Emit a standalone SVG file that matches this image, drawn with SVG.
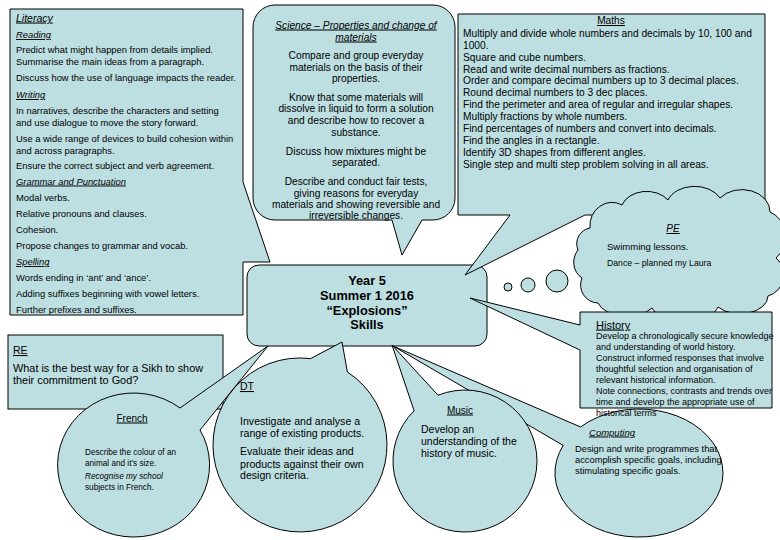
<svg xmlns="http://www.w3.org/2000/svg" width="780" height="540" viewBox="0 0 780 540">
<style>
.sh{fill:#bddfe2;stroke:#000;stroke-width:1;stroke-linejoin:miter}
text{font-family:"Liberation Sans",Arial,sans-serif;fill:#000}
.u{text-decoration:underline}
.i{font-style:italic}
.lit{font-size:9.4px}
.sci{font-size:10.2px;text-anchor:middle}
.mat{font-size:10.2px}
.his{font-size:9px}
.c{text-anchor:middle}
</style>
<rect width="780" height="540" fill="#fff"/>

<g id="central">
<rect class="sh" x="247" y="265" width="240" height="81" rx="12"/>
<text x="367" y="284.5" font-size="12.8" font-weight="bold" class="c">Year 5</text>
<text x="367" y="299.5" font-size="12.8" font-weight="bold" class="c">Summer 1 2016</text>
<text x="367" y="314.5" font-size="12.8" font-weight="bold" class="c">“Explosions”</text>
<text x="367" y="328.5" font-size="12.8" font-weight="bold" class="c">Skills</text>
</g>

<g id="literacy">
<path class="sh" d="M10,9 H243 V182 L270,262 L243,262 V315 H10 Z"/>
<text x="16" y="21.5" font-size="10.5" class="u i">Literacy</text>
<text x="16" y="38" class="lit u i">Reading</text>
<text x="16" y="52.5" class="lit">Predict what might happen from details implied.</text>
<text x="16" y="64.5" class="lit">Summarise the main ideas from a paragraph.</text>
<text x="16" y="80.5" class="lit">Discuss how the use of language impacts the reader.</text>
<text x="16" y="98" class="lit u i">Writing</text>
<text x="16" y="114" class="lit">In narratives, describe the characters and setting</text>
<text x="16" y="126" class="lit">and use dialogue to move the story forward.</text>
<text x="16" y="142" class="lit">Use a wide range of devices to build cohesion within</text>
<text x="16" y="153.5" class="lit">and across paragraphs.</text>
<text x="16" y="168.5" class="lit">Ensure the correct subject and verb agreement.</text>
<text x="16" y="184.5" class="lit u i">Grammar and Punctuation</text>
<text x="16" y="200.5" class="lit">Modal verbs.</text>
<text x="16" y="216.5" class="lit">Relative pronouns and clauses.</text>
<text x="16" y="233" class="lit">Cohesion.</text>
<text x="16" y="248.5" class="lit">Propose changes to grammar and vocab.</text>
<text x="16" y="265" class="lit u i">Spelling</text>
<text x="16" y="280.5" class="lit">Words ending in ‘ant’ and ‘ance’.</text>
<text x="16" y="297" class="lit">Adding suffixes beginning with vowel letters.</text>
<text x="16" y="313" class="lit">Further prefixes and suffixes.</text>
</g>

<g id="science">
<path class="sh" d="M275,5 H433 A22,22 0 0 1 455,27 V198 A22,22 0 0 1 433,220 H422 L402,255 L392,220 H275 A22,22 0 0 1 253,198 V27 A22,22 0 0 1 275,5 Z"/>
<text x="356" y="28.5" class="sci u i">Science – Properties and change of</text>
<text x="356" y="40.5" class="sci u i">materials</text>
<text x="356" y="58.5" class="sci">Compare and group everyday</text>
<text x="356" y="70.5" class="sci">materials on the basis of their</text>
<text x="356" y="81.5" class="sci">properties.</text>
<text x="356" y="100.5" class="sci">Know that some materials will</text>
<text x="356" y="111.5" class="sci">dissolve in liquid to form a solution</text>
<text x="356" y="123.5" class="sci">and describe how to recover a</text>
<text x="356" y="135.5" class="sci">substance.</text>
<text x="356" y="154.5" class="sci">Discuss how mixtures might be</text>
<text x="356" y="165.5" class="sci">separated.</text>
<text x="356" y="184.5" class="sci">Describe and conduct fair tests,</text>
<text x="356" y="196.5" class="sci">giving reasons for everyday</text>
<text x="356" y="207.5" class="sci">materials and showing reversible and</text>
<text x="356" y="219" class="sci">irreversible changes.</text>
</g>

<g id="maths">
<path class="sh" d="M458,14 H765 V215 H585 L465,275 L510,215 H458 Z"/>
<text x="611" y="24" class="mat u c">Maths</text>
<text x="463" y="36.8" class="mat">Multiply and divide whole numbers and decimals by 10, 100 and</text>
<text x="463" y="48.7" class="mat">1000.</text>
<text x="463" y="60.6" class="mat">Square and cube numbers.</text>
<text x="463" y="72.5" class="mat">Read and write decimal numbers as fractions.</text>
<text x="463" y="84.4" class="mat">Order and compare decimal numbers up to 3 decimal places.</text>
<text x="463" y="96.3" class="mat">Round decimal numbers to 3 dec places.</text>
<text x="463" y="108.2" class="mat">Find the perimeter and area of regular and irregular shapes.</text>
<text x="463" y="120.1" class="mat">Multiply fractions by whole numbers.</text>
<text x="463" y="132" class="mat">Find percentages of numbers and convert into decimals.</text>
<text x="463" y="143.9" class="mat">Find the angles in a rectangle.</text>
<text x="463" y="155.8" class="mat">Identify 3D shapes from different angles.</text>
<text x="463" y="167.7" class="mat">Single step and multi step problem solving in all areas.</text>
</g>

<g id="pe">
<circle class="sh" cx="508" cy="287" r="4"/>
<circle class="sh" cx="528" cy="285" r="7"/>
<circle class="sh" cx="557" cy="281" r="11"/>
<path class="sh" d="M590,228 A22,24 0 0 1 622,205 A26,20 0 0 1 668,200 A28,20 0 0 1 720,198 A28,22 0 0 1 770,212 A22,26 0 0 1 776,258 A22,22 0 0 1 768,296 A28,18 0 0 1 718,307 A34,18 0 0 1 652,308 A30,18 0 0 1 598,303 A18,18 0 0 1 582,278 A16,18 0 0 1 578,250 A16,16 0 0 1 590,228 Z"/>
<text x="673" y="232" font-size="10" class="u i c">PE</text>
<text x="607" y="249.5" font-size="9.5">Swimming lessons.</text>
<text x="607" y="266" font-size="8.7">Dance – planned my Laura</text>
</g>

<g id="re">
<rect class="sh" x="8" y="335" width="215" height="74"/>
<text x="13" y="354" font-size="10.5" class="u">RE</text>
<text x="13" y="372" font-size="10.9">What is the best way for a Sikh to show</text>
<text x="13" y="384" font-size="10.9">their commitment to God?</text>
</g>

<g id="french">
<path class="sh" d="M200,430 A76,72 0 1 1 180,408 L268,346 Z"/>
<text x="132" y="421.5" font-size="10" class="u c">French</text>
<text x="85" y="455" font-size="8.2">Describe the colour of an</text>
<text x="85" y="466" font-size="8.2">animal and it’s size.</text>
<text x="85" y="479" font-size="8.2" class="i">Recognise my school</text>
<text x="85" y="490" font-size="8.2">subjects in French.</text>
</g>

<g id="dt">
<path class="sh" d="M347.4,372 A87,87 0 1 1 310.6,358.6 L342,342 Z"/>
<text x="240" y="390" font-size="10.5" class="u">DT</text>
<text x="240" y="425" font-size="10.6">Investigate and analyse a</text>
<text x="240" y="436.5" font-size="10.6">range of existing products.</text>
<text x="240" y="455" font-size="10.6">Evaluate their ideas and</text>
<text x="240" y="467.5" font-size="10.6">products against their own</text>
<text x="240" y="479" font-size="10.6">design criteria.</text>
</g>

<g id="computing">
<path class="sh" d="M580.6,427 A84,64 0 1 1 563.2,445.4 L393,346 Z"/>
<text x="612" y="435.5" font-size="9.5" class="u i c">Computing</text>
<text x="575" y="452" font-size="9.3">Design and write programmes that</text>
<text x="575" y="463" font-size="9.3">accomplish specific goals, including</text>
<text x="575" y="474" font-size="9.3">stimulating specific goals.</text>
</g>

<g id="music">
<path class="sh" d="M438,395.2 A72,71 0 1 1 414.1,410.8 L392,345 Z"/>
<text x="460" y="413.5" font-size="10" class="u c">Music</text>
<text x="421" y="432.5" font-size="10.5">Develop an</text>
<text x="421" y="444.5" font-size="10.5">understanding of the</text>
<text x="421" y="456.5" font-size="10.5">history of music.</text>
</g>

<g id="history">
<path class="sh" d="M580,312 H772 V408 H580 V350 L470,298 L580,325 Z"/>
<text x="596" y="328.5" font-size="11" class="u">History</text>
<text x="596" y="339" class="his">Develop a chronologically secure knowledge</text>
<text x="596" y="350" class="his">and understanding of world history.</text>
<text x="596" y="361" class="his">Construct informed responses that involve</text>
<text x="596" y="372" class="his">thoughtful selection and organisation of</text>
<text x="596" y="383" class="his">relevant historical information.</text>
<text x="596" y="394" class="his">Note connections, contrasts and trends over</text>
<text x="596" y="405" class="his">time and develop the appropriate use of</text>
<text x="596" y="416" class="his">historical terms</text>
</g>

<g id="connectors"></g>
</svg>
